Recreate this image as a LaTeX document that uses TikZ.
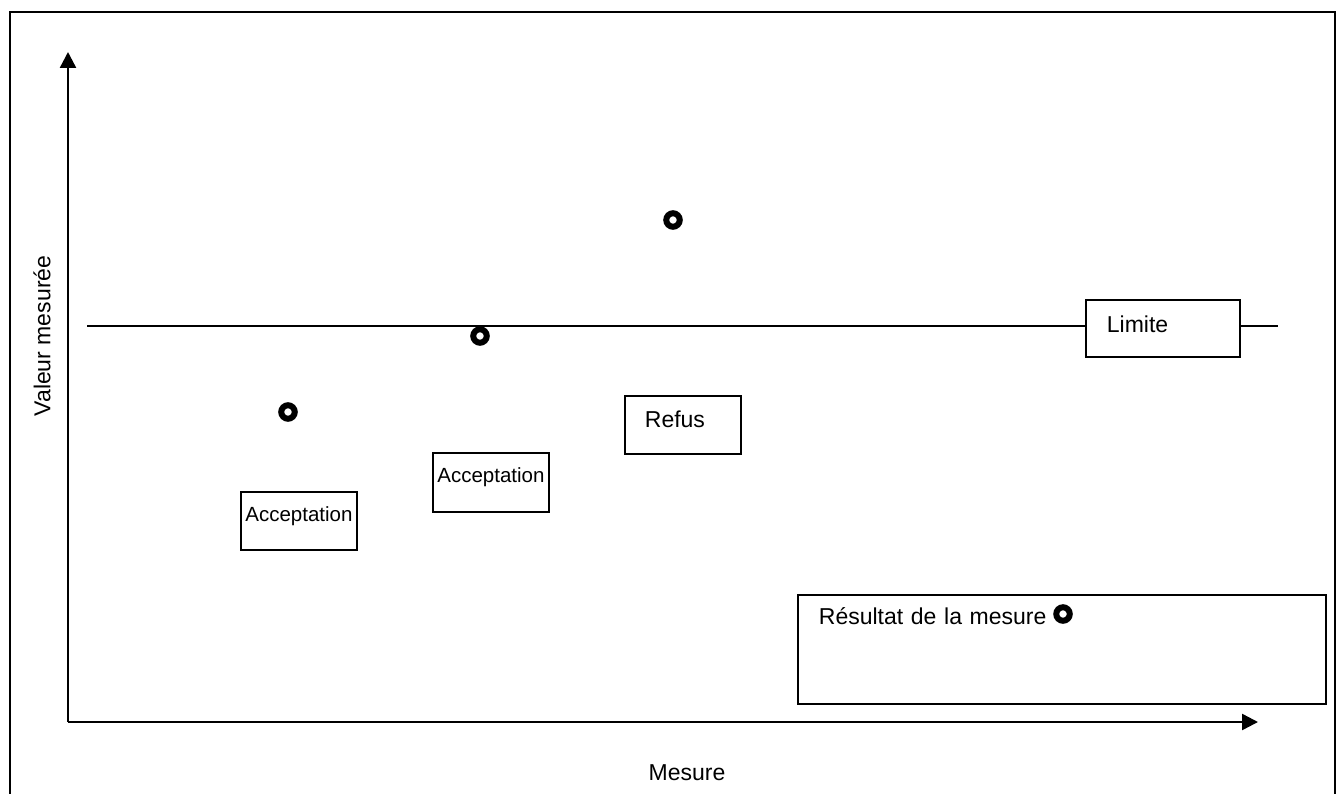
\documentclass[tikz,border=0pt]{standalone}
\usepackage{fontspec}
\setmainfont{Liberation Sans}
\usetikzlibrary{arrows.meta}
\begin{document}
\begin{tikzpicture}[x=1pt,y=-1pt,
  box/.style={draw, line width=1.8pt, fill=white, inner ysep=0pt, anchor=north west},
  boxtext/.style={font=\fontsize{23}{27}\selectfont},
  acctext/.style={font=\fontsize{20.5}{24}\selectfont},
  dot/.style={circle, draw, line width=6pt, minimum size=13.5pt, inner sep=0pt},
  axis/.style={line width=2.4pt, -{Triangle[length=16pt,width=16pt]}},
  frame/.style={line width=1.8pt},
  lim/.style={line width=1.5pt}]
\useasboundingbox (0,0) rectangle (1343,794);
% frame
\coordinate (f1) at (10,794);
\coordinate (f2) at (10,12);
\coordinate (f3) at (1335,12);
\coordinate (f4) at (1335,794);
\draw[frame] (f1) -- (f2) -- (f3) -- (f4);
% axes
\coordinate (O) at (68,722);
\coordinate (ytop) at (68,52);
\coordinate (xend) at (1258,722);
\draw[axis] (O) -- (ytop);
\draw[axis] (O) -- (xend);
% limit line
\coordinate (lleft) at (87,326);
\coordinate (lright) at (1278,326);
\draw[lim] (lleft) -- (lright);
% boxes
\node[box, boxtext, inner xsep=21pt, text width=112pt, align=left, text height=33pt, text depth=24pt] (limite) at (1085,299) {Limite};
\node[box, boxtext, inner xsep=20pt, text width=76pt, align=left, text height=32pt, text depth=26pt] (refus) at (624,395) {Refus};
\node[box, acctext, inner xsep=0pt, text width=116pt, align=center, text height=30pt, text depth=28pt] (acc1) at (240,491) {Acceptation};
\node[box, acctext, inner xsep=0pt, text width=116pt, align=center, text height=30pt, text depth=29pt] (acc2) at (432,452) {Acceptation};
\node[box, boxtext, inner xsep=21pt, text width=486pt, align=left, text height=30pt, text depth=79pt] (res) at (797,594) {Résultat de la mesure};
% points
\node[dot] (p1) at (288,412) {};
\node[dot] (p2) at (480,336) {};
\node[dot] (p3) at (673,220) {};
\node[dot] (legdot) at (1063,614) {};
% axis labels
\node[boxtext, rotate=90] (ylab) at (42,336) {Valeur mesurée};
\node[boxtext] (xlab) at (687,773) {Mesure};
\end{tikzpicture}
\end{document}
